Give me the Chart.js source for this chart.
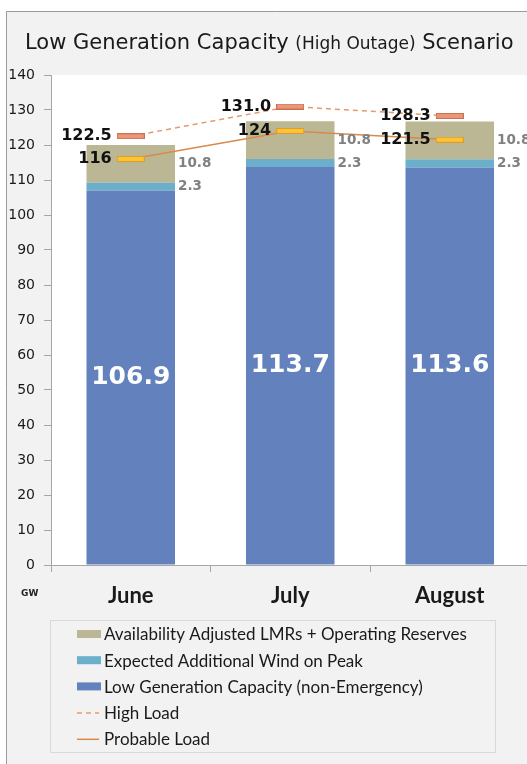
<!DOCTYPE html>
<html>
<head>
<meta charset="utf-8">
<script src="https://cdn.jsdelivr.net/npm/chart.js@4.4.1/dist/chart.umd.min.js"></script>
<style>
  html, body { margin: 0; padding: 0; background: #fff; overflow: hidden; }
  canvas { display: block; }
</style>
</head>
<body>
<canvas id="myChart" width="545" height="764"></canvas>
<script>
// summer capacity vs load, GW
const months = ['June', 'July', 'August'];
const lowGen = [106.9, 113.7, 113.6];
const wind = [2.3, 2.3, 2.3];
const lmrs = [10.8, 10.8, 10.8];
const highLoad = [122.5, 131.0, 128.3];
const probableLoad = [116, 124, 121.5];
const yMin = 0, yMax = 140, yStep = 10;

const BLUE = '#6281bd', CYAN = '#6bafca', TAN = '#bbb795';

// little flat bar used as the point marker on the load lines
function dashMarker(fill, stroke) {
  const c = document.createElement('canvas');
  c.width = 28; c.height = 6;
  const g = c.getContext('2d');
  g.fillStyle = fill;
  g.fillRect(0, 0, 28, 6);
  g.strokeStyle = stroke;
  g.lineWidth = 1;
  g.strokeRect(0.5, 0.5, 27, 5);
  return c;
}

const frame = {
  id: 'frame',
  beforeDraw(chart) {
    const ctx = chart.ctx, a = chart.chartArea;
    ctx.save();
    ctx.fillStyle = '#fff';
    ctx.fillRect(0, 0, chart.width, chart.height);
    ctx.fillStyle = '#f2f2f2';
    ctx.fillRect(6, 11, chart.width, chart.height);
    ctx.strokeStyle = '#9a9a9a';
    ctx.lineWidth = 1;
    ctx.beginPath();
    ctx.moveTo(6.5, chart.height);
    ctx.lineTo(6.5, 11.5);
    ctx.lineTo(chart.width, 11.5);
    ctx.stroke();
    ctx.fillStyle = '#fff';
    ctx.fillRect(a.left, a.top, a.right - a.left, a.bottom - a.top);

    // title, middle part smaller
    const parts = [
      ['Low Generation Capacity ', '21px "DejaVu Sans"'],
      ['(High Outage)', '17px "DejaVu Sans"'],
      [' Scenario', '21px "DejaVu Sans"']
    ];
    let x = 25;
    ctx.fillStyle = '#1a1a1a';
    ctx.textBaseline = 'alphabetic';
    ctx.textAlign = 'left';
    parts.forEach(p => {
      ctx.font = p[1];
      ctx.fillText(p[0], x, 49);
      x += ctx.measureText(p[0]).width;
    });
    ctx.restore();
  },
  afterDatasetsDraw(chart) {
    const ctx = chart.ctx;
    ctx.save();
    chart.data.datasets.forEach((ds, i) => {
      const meta = chart.getDatasetMeta(i);
      meta.data.forEach((el, j) => {
        const v = ds.data[j];
        if (ds.labelMode === 'inside') {
          ctx.font = 'bold 25px "DejaVu Sans"';
          ctx.fillStyle = '#fff';
          ctx.textAlign = 'center';
          ctx.textBaseline = 'middle';
          ctx.fillText(v.toFixed(1), el.x, (el.y + el.base) / 2);
        } else if (ds.labelMode === 'side') {
          ctx.font = 'bold 13.5px "DejaVu Sans"';
          ctx.fillStyle = '#808080';
          ctx.textAlign = 'left';
          ctx.textBaseline = 'middle';
          ctx.fillText(v.toFixed(1), el.x + el.width / 2 + 3, (el.y + el.base) / 2);
        } else if (ds.labelMode === 'point') {
          ctx.font = 'bold 16px "DejaVu Sans"';
          ctx.fillStyle = '#111';
          ctx.textAlign = 'right';
          ctx.textBaseline = 'middle';
          ctx.fillText(ds.fmt(v), el.x - 19, el.y);
        }
      });
    });
    ctx.restore();
  },
  afterDraw(chart) {
    const ctx = chart.ctx;
    ctx.save();
    ctx.font = 'bold 9px "DejaVu Sans"';
    ctx.fillStyle = '#222';
    ctx.textAlign = 'left';
    ctx.textBaseline = 'middle';
    ctx.fillText('GW', 21, 594);

    // legend box
    ctx.fillStyle = '#f2f2f2';
    ctx.fillRect(50, 620, 445, 132);
    ctx.strokeStyle = '#d9d9d9';
    ctx.strokeRect(50.5, 620.5, 445, 132);
    const items = chart.data.datasets.slice().sort((p, q) => p.legendPos - q.legendPos);
    items.forEach((ds, k) => {
      const y = 634 + k * 26.2;
      if (ds.type === 'line') {
        ctx.strokeStyle = ds.borderColor;
        ctx.lineWidth = 1.5;
        ctx.setLineDash(ds.borderDash || []);
        ctx.beginPath();
        ctx.moveTo(77, y + 0.5);
        ctx.lineTo(99, y + 0.5);
        ctx.stroke();
        ctx.setLineDash([]);
      } else {
        ctx.fillStyle = ds.backgroundColor;
        ctx.fillRect(77, y - 4, 24, 8);
      }
      ctx.font = '17px Lato';
      ctx.fillStyle = '#1a1a1a';
      ctx.textAlign = 'left';
      ctx.textBaseline = 'middle';
      ctx.fillText(ds.label, 104, y + 1);
    });
    ctx.restore();
  }
};

const ctx = document.getElementById('myChart');

new Chart(ctx, {
  type: 'bar',
  data: {
    labels: months,
    datasets: [
      {
        type: 'line', label: 'High Load', data: highLoad, stack: 'high', order: 0,
        borderColor: '#e39a6f', borderWidth: 1.5, borderDash: [5, 4],
        pointStyle: dashMarker('#e8987a', '#cf6f4b'), pointRadius: 14,
        labelMode: 'point', fmt: v => v.toFixed(1), legendPos: 3
      },
      {
        type: 'line', label: 'Probable Load', data: probableLoad, stack: 'prob', order: 0,
        borderColor: '#d98a4a', borderWidth: 1.5,
        pointStyle: dashMarker('#f9c534', '#e39a2d'), pointRadius: 14,
        labelMode: 'point', fmt: v => String(v), legendPos: 4
      },
      {
        label: 'Low Generation Capacity (non-Emergency)', data: lowGen, order: 1,
        backgroundColor: BLUE, labelMode: 'inside', legendPos: 2
      },
      {
        label: 'Expected Additional Wind on Peak', data: wind, order: 1,
        backgroundColor: CYAN, labelMode: 'side', legendPos: 1
      },
      {
        label: 'Availability Adjusted LMRs + Operating Reserves', data: lmrs, order: 1,
        backgroundColor: TAN, labelMode: 'side', legendPos: 0
      }
    ]
  },
  options: {
    responsive: false,
    animation: false,
    categoryPercentage: 1,
    barPercentage: 0.555,
    layout: { padding: { left: 0, top: 75, right: 14, bottom: 154 } },
    plugins: {
      legend: { display: false },
      tooltip: { enabled: false },
      title: { display: false }
    },
    scales: {
      x: {
        stacked: true,
        offset: true,
        grid: { drawOnChartArea: false, offset: true, tickLength: 7, color: '#a6a6a6' },
        border: { color: '#a6a6a6' },
        ticks: { font: { family: 'Lato', weight: 'bold', size: 22 }, color: '#1a1a1a', padding: 11 },
        afterFit(scale) { scale.height = 45; }
      },
      y: {
        stacked: true,
        min: yMin,
        max: yMax,
        grid: { drawOnChartArea: false, tickLength: 7, color: '#a6a6a6' },
        border: { color: '#a6a6a6' },
        ticks: { stepSize: yStep, font: { family: 'DejaVu Sans', size: 14 }, color: '#1a1a1a', padding: 9 },
        afterFit(scale) { scale.width = 51; }
      }
    }
  },
  plugins: [frame]
});
</script>
</body>
</html>
